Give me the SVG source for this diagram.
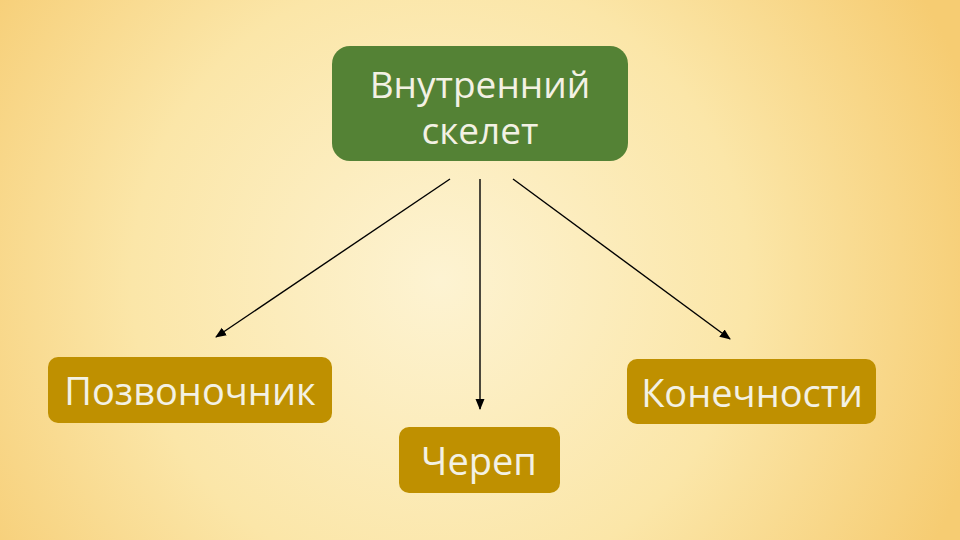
<svg xmlns="http://www.w3.org/2000/svg" width="960" height="540" viewBox="0 0 960 540">
<defs>
<radialGradient id="bg" cx="440" cy="280" r="560" gradientUnits="userSpaceOnUse">
<stop offset="0" stop-color="#fdf3d2"/>
<stop offset="0.55" stop-color="#fbe6a8"/>
<stop offset="1" stop-color="#f6cc72"/>
</radialGradient>
<marker id="ah" markerWidth="12" markerHeight="12" refX="10" refY="6" orient="auto" markerUnits="userSpaceOnUse">
<path d="M0,1.5 L11,6 L0,10.5 Z" fill="#000"/>
</marker>
<style>
.g{fill:#548235}
.y{fill:#bf9000}
.t{font-family:"Open Sans","Noto Sans","DejaVu Sans",sans-serif;fill:#f3f1e4;text-anchor:middle}
.c{stroke:#000;stroke-width:1.4;fill:none;marker-end:url(#ah)}
</style>
</defs>
<rect width="960" height="540" fill="url(#bg)"/>
<g id="connectors">
<line class="c" x1="450" y1="179" x2="216" y2="337"/>
<line class="c" x1="480" y1="179" x2="480" y2="409"/>
<line class="c" x1="513" y1="179" x2="730" y2="339"/>
</g>
<g id="n-root">
<rect class="g" x="332" y="46" width="296" height="115" rx="18"/>
<text class="t" x="480" y="98" font-size="37">Внутренний</text>
<text class="t" x="480" y="144" font-size="37">скелет</text>
</g>
<g id="n-spine">
<rect class="y" x="48" y="357" width="284" height="66" rx="10"/>
<text class="t" x="190" y="405" font-size="38">Позвоночник</text>
</g>
<g id="n-skull">
<rect class="y" x="399" y="427" width="161" height="66" rx="10"/>
<text class="t" x="479" y="475" font-size="38">Череп</text>
</g>
<g id="n-limbs">
<rect class="y" x="627" y="359" width="249" height="65" rx="10"/>
<text class="t" x="752" y="407" font-size="38">Конечности</text>
</g>
</svg>
